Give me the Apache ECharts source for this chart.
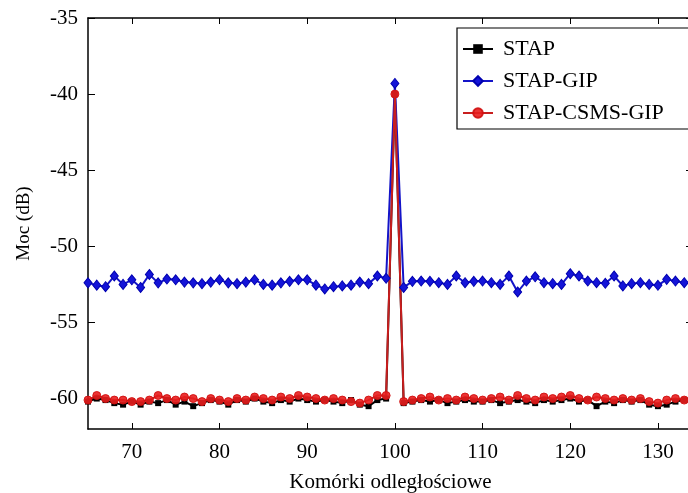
<!DOCTYPE html>
<html>
<head>
<meta charset="utf-8">
<script src="https://cdn.jsdelivr.net/npm/echarts@6/dist/echarts.min.js"></script>
<style>html,body{margin:0;padding:0;background:#fff;overflow:hidden}
#wrap{position:relative;width:688px;height:493px;overflow:hidden}
#c{position:absolute;left:0;top:0;width:710px;height:493px}</style>
</head>
<body>
<div id="wrap"><div id="c"></div></div>
<script>
const cells = [65,66,67,68,69,70,71,72,73,74,75,76,77,78,79,80,81,82,83,84,85,86,87,88,89,90,91,92,93,94,95,96,97,98,99,100,101,102,103,104,105,106,107,108,109,110,111,112,113,114,115,116,117,118,119,120,121,122,123,124,125,126,127,128,129,130,131,132,133,134];
const stap = [-60.2,-60.0,-60.1,-60.3,-60.4,-60.2,-60.4,-60.2,-60.3,-60.1,-60.4,-60.2,-60.5,-60.3,-60.1,-60.2,-60.4,-60.1,-60.2,-60.0,-60.2,-60.3,-60.1,-60.2,-60.0,-60.1,-60.2,-60.1,-60.2,-60.3,-60.1,-60.4,-60.5,-60.1,-60.0,-40.0,-60.3,-60.2,-60.1,-60.2,-60.1,-60.3,-60.2,-60.1,-60.2,-60.2,-60.1,-60.3,-60.2,-60.1,-60.2,-60.3,-60.1,-60.2,-60.1,-60.0,-60.2,-60.1,-60.5,-60.2,-60.3,-60.1,-60.2,-60.1,-60.4,-60.5,-60.4,-60.2,-60.1,-60.2];
const stapGip = [-52.4,-52.55,-52.65,-51.95,-52.5,-52.2,-52.7,-51.85,-52.4,-52.15,-52.2,-52.35,-52.4,-52.45,-52.35,-52.2,-52.4,-52.45,-52.35,-52.2,-52.5,-52.55,-52.4,-52.3,-52.2,-52.2,-52.55,-52.8,-52.65,-52.6,-52.55,-52.35,-52.45,-51.95,-52.1,-39.3,-52.7,-52.3,-52.28,-52.3,-52.39,-52.5,-51.95,-52.39,-52.3,-52.28,-52.39,-52.5,-51.95,-53.0,-52.28,-52.0,-52.39,-52.45,-52.5,-51.8,-51.95,-52.28,-52.39,-52.43,-51.95,-52.6,-52.45,-52.39,-52.5,-52.56,-52.17,-52.28,-52.39,-52.4];
const stapCsmsGip = [-60.1,-59.8,-60.0,-60.1,-60.1,-60.2,-60.2,-60.1,-59.8,-60.0,-60.1,-59.9,-60.0,-60.2,-60.0,-60.1,-60.2,-60.0,-60.1,-59.9,-60.0,-60.1,-59.9,-60.0,-59.8,-59.9,-60.0,-60.1,-60.0,-60.1,-60.2,-60.3,-60.1,-59.8,-59.8,-40.0,-60.2,-60.1,-60.0,-59.9,-60.1,-60.0,-60.1,-59.9,-60.0,-60.1,-60.0,-59.9,-60.1,-59.8,-60.0,-60.1,-59.9,-60.0,-59.9,-59.8,-60.0,-60.1,-59.9,-60.0,-60.1,-60.0,-60.1,-60.0,-60.2,-60.3,-60.1,-60.0,-60.1,-60.0];
const xTicks = [70,80,90,100,110,120,130];
const yTicks = [-60,-55,-50,-45,-40,-35];
const seriesNames = ['STAP','STAP-GIP','STAP-CSMS-GIP'];

const pair = arr => cells.map((c,i)=>[c,arr[i]]);
const font = 'Liberation Serif';
const chart = echarts.init(document.getElementById('c'), null, {renderer:'canvas'});
const axisLine = {show:true, lineStyle:{color:'#000', width:1.5}};
chart.setOption({
  animation:false,
  backgroundColor:'#fff',
  grid:{left:88, top:18, right:17, bottom:64, containLabel:false, outerBoundsMode:'none'},
  legend:{
    orient:'vertical', left:457, top:28,
    padding:[10,60,5,5],
    borderColor:'#000', borderWidth:1.2, backgroundColor:'#fff',
    itemWidth:30, itemHeight:12, itemGap:10,
    textStyle:{fontFamily:font, fontSize:22, color:'#000', lineHeight:21, padding:[0,0,0,5]},
    data:seriesNames
  },
  xAxis:[{
    type:'value', min:65, max:134,
    name:'Komórki odległościowe', nameLocation:'middle', nameGap:43,
    nameTextStyle:{fontFamily:font, fontSize:21, color:'#000'},
    axisLine:axisLine,
    axisTick:{show:true, inside:true, length:6, customValues:xTicks, lineStyle:{color:'#000'}},
    axisLabel:{customValues:xTicks, fontFamily:font, fontSize:21, color:'#000', margin:13},
    splitLine:{show:false}
  },{
    type:'value', min:65, max:134, position:'top',
    axisLine:axisLine,
    axisTick:{show:true, inside:true, length:6, customValues:xTicks, lineStyle:{color:'#000'}},
    axisLabel:{show:false},
    splitLine:{show:false}
  }],
  yAxis:[{
    type:'value', min:-62, max:-35,
    name:'Moc (dB)', nameLocation:'middle', nameGap:54, nameRotate:90,
    nameTextStyle:{fontFamily:font, fontSize:19, color:'#000'},
    axisLine:axisLine,
    axisTick:{show:true, inside:true, length:7, customValues:yTicks, lineStyle:{color:'#000'}},
    axisLabel:{customValues:yTicks, fontFamily:font, fontSize:21, color:'#000', margin:10},
    splitLine:{show:false}
  },{
    type:'value', min:-62, max:-35, position:'right',
    axisLine:axisLine,
    axisTick:{show:true, inside:true, length:7, customValues:yTicks, lineStyle:{color:'#000'}},
    axisLabel:{show:false},
    splitLine:{show:false}
  }],
  series:[
    {name:seriesNames[0], type:'line', data:pair(stap), symbol:'rect', symbolSize:6,
     lineStyle:{color:'#000', width:2}, itemStyle:{color:'#000'}},
    {name:seriesNames[1], type:'line', data:pair(stapGip), symbol:'diamond', symbolSize:[8,10],
     lineStyle:{color:'#1414c8', width:2}, itemStyle:{color:'#1414d8', borderColor:'#0000b0', borderWidth:1}},
    {name:seriesNames[2], type:'line', data:pair(stapCsmsGip), symbol:'circle', symbolSize:8,
     lineStyle:{color:'#c81e1e', width:2}, itemStyle:{color:'#e81e1e', borderColor:'#d01010', borderWidth:1, opacity:0.9}}
  ]
});
</script>
</body>
</html>
